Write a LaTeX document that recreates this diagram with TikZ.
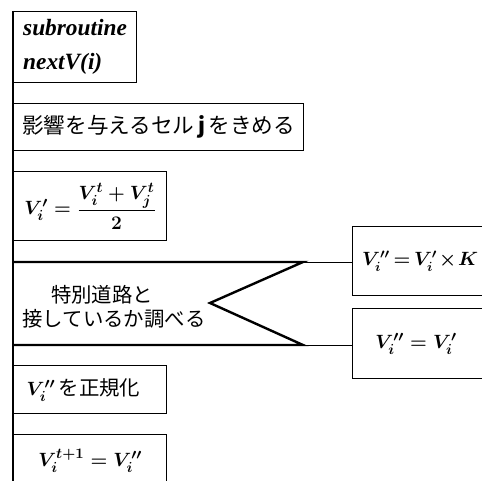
\documentclass[tikz,border=0pt]{standalone}
\usepackage{fontspec}
\setmainfont{Liberation Serif}
\newfontfamily\jp{Noto Sans CJK JP}

\begin{document}
\begin{tikzpicture}[x=0.75pt,y=-0.75pt,
  box/.style={draw,line width=1.1pt,anchor=north west,inner sep=0pt,align=left},
  jtxt/.style={font=\jp\fontsize{15.3}{18}\selectfont},
  eq/.style={font=\boldmath\fontsize{15}{18}\selectfont}]
\useasboundingbox (0,0) rectangle (482,481);
\clip (0,0) rectangle (482,481);
                \node[box,minimum width=92pt,minimum height=53.25pt,font=\fontsize{17.5}{25.5}\selectfont\bfseries\itshape] (A) at (13,11) {subroutine\\nextV(i)};
                \node[box,jtxt,font=\jp\fontsize{16.2}{18}\selectfont,minimum width=217.5pt,minimum height=35.25pt] (B) at (13,103) {影響を与えるセル\,\textbf{\textit{j}}\,をきめる};
                \node[box,eq,font=\boldmath\fontsize{15.5}{18}\selectfont,minimum width=114.75pt,minimum height=51.75pt] (C) at (13,171) {$V'_i=\displaystyle\frac{V_i^t+V_j^t}{2}$};
                \node[box,eq,font=\boldmath\fontsize{14.5}{18}\selectfont,minimum width=111pt,minimum height=51.75pt] (D) at (352,226) {\medmuskip=1.5mu\thickmuskip=3mu$V''_i=V'_i\times K$\hspace*{10pt}};
                \node[box,eq,minimum width=111pt,minimum height=52.5pt] (E) at (352,308) {$V''_i=V'_i$\hspace*{16pt}};
                \node[box,jtxt,minimum width=114.75pt,minimum height=36pt] (F) at (13,365) {{\boldmath$V''_i$}\,を正規化\hspace*{10pt}};
                \node[box,eq,minimum width=114.75pt,minimum height=39pt] (G) at (13,434) {$V_i^{t+1}=V''_i$};
                \node[jtxt,align=left] (H) at (114,307) {\hspace*{1.4em}特別道路と\\接しているか調べる};
                \coordinate (P) at (13,262);
                \coordinate (Q) at (303,262);
                \coordinate (R) at (210,303);
                \coordinate (S) at (303,345);
                \coordinate (T) at (13,345);
                \coordinate (U) at (13,481);
                \draw [line width=1.1pt] (A.north west) -- (U);
                \draw [line width=1.8pt] (P) -- (Q) -- (R) -- (S) -- (T);
                \draw [line width=0.6pt] (Q) -- (Q -| D.west);
                \draw [line width=0.6pt] (S) -- (S -| E.west);
\end{tikzpicture}
\end{document}
